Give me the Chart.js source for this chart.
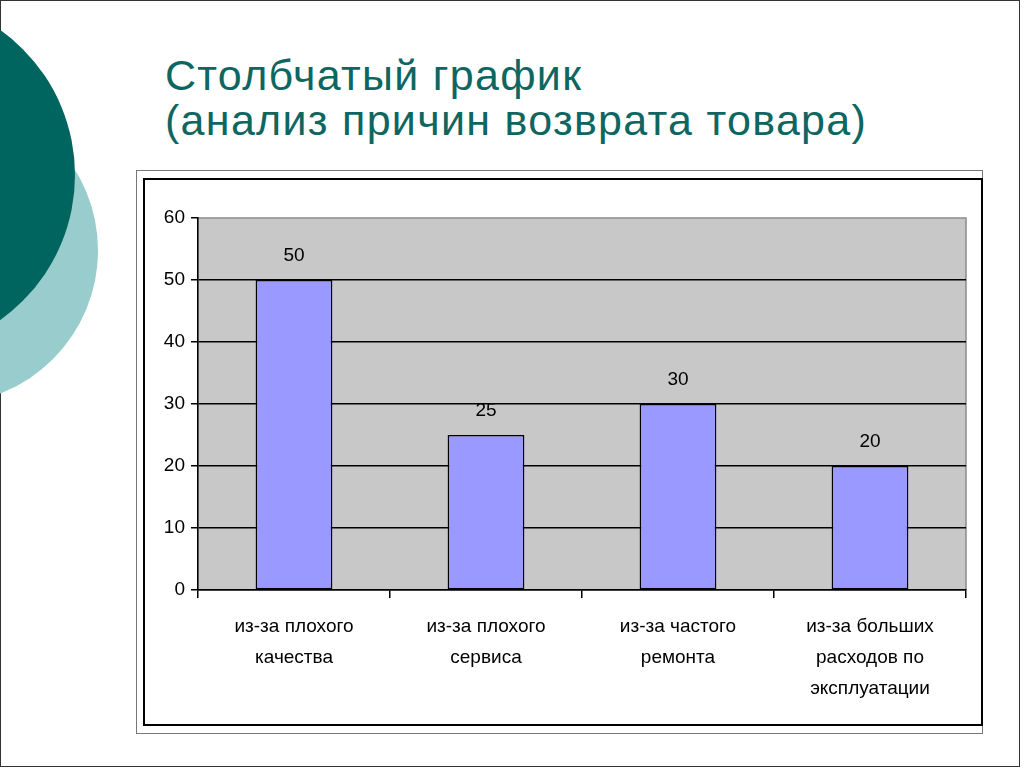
<!DOCTYPE html>
<html>
<head>
<meta charset="utf-8">
<script src="https://cdn.jsdelivr.net/npm/chart.js@4/dist/chart.umd.min.js"></script>
<style>
  body { margin: 0; background: #fff; }
  #slide { position: relative; width: 1024px; height: 768px; overflow: hidden; background: #fff; }
  .edge { position: absolute; left: 0; top: 0; width: 1018px; height: 765px; border: 1px solid #333; }
  .circle { position: absolute; border-radius: 50%; }
  #light { left: -209px; top: 97px; width: 307px; height: 307px; background: #99cccc; }
  #dark { left: -281px; top: -3px; width: 356px; height: 356px; background: #00645f; }
  #title { position: absolute; left: 165px; top: 53px; font: 43px "Liberation Sans", Arial, sans-serif;
           letter-spacing: 1.3px; line-height: 45px; color: #0e6661; white-space: nowrap; }
  #outer { position: absolute; left: 136px; top: 170px; width: 845px; height: 562px; border: 1px solid #777; }
  #inner { position: absolute; left: 143px; top: 178px; width: 836px; height: 544px; border: 2px solid #000; }
  #chart { position: absolute; left: 0; top: 0; }
</style>
</head>
<body>
<div id="slide">
  <div class="edge"></div>
  <div class="circle" id="light"></div>
  <div class="circle" id="dark"></div>
  <div id="title">Столбчатый график<br>(анализ причин возврата товара)</div>
  <div id="outer"></div>
  <div id="inner"></div>
  <canvas id="chart" width="1024" height="768"></canvas>
</div>
<script>
const reasons = [
  ["из-за плохого", "качества"],
  ["из-за плохого", "сервиса"],
  ["из-за частого", "ремонта"],
  ["из-за больших", "расходов по", "эксплуатации"]
];
const returnCounts = [50, 25, 30, 20];
const yTicks = [0, 10, 20, 30, 40, 50, 60];

const fontFamily = '"Liberation Sans", Arial, sans-serif';

// серый фон области построения и её рамка
const plotBackground = {
  id: "plotBackground",
  beforeDraw(chart) {
    const { ctx, chartArea: a } = chart;
    ctx.save();
    ctx.fillStyle = "#c8c8c8";
    ctx.fillRect(a.left, a.top, a.right - a.left, a.bottom - a.top);
    ctx.strokeStyle = "#8c8c8c";
    ctx.lineWidth = 1.5;
    ctx.beginPath();
    ctx.moveTo(a.left, a.top);
    ctx.lineTo(a.right, a.top);
    ctx.lineTo(a.right, a.bottom);
    ctx.stroke();
    ctx.restore();
  }
};

// подписи значений над столбцами
const valueLabels = {
  id: "valueLabels",
  afterDatasetsDraw(chart) {
    const ctx = chart.ctx;
    const meta = chart.getDatasetMeta(0);
    ctx.save();
    ctx.font = "19px " + fontFamily;
    ctx.fillStyle = "#000";
    ctx.textAlign = "center";
    ctx.textBaseline = "middle";
    meta.data.forEach((bar, i) => {
      ctx.fillText(String(returnCounts[i]), bar.x, bar.y - 24);
    });
    ctx.restore();
  }
};

new Chart(document.getElementById("chart"), {
  type: "bar",
  data: {
    labels: reasons,
    datasets: [{
      data: returnCounts,
      backgroundColor: "#9999ff",
      borderColor: "#000",
      borderWidth: 1.6,
      borderSkipped: false,
      categoryPercentage: 1,
      barPercentage: 0.4
    }]
  },
  options: {
    responsive: false,
    animation: false,
    layout: { padding: { left: 138, top: 218, right: 58, bottom: 58 } },
    plugins: {
      legend: { display: false },
      tooltip: { enabled: false }
    },
    scales: {
      x: {
        afterFit: (s) => { s.height = 120; },
        grid: {
          offset: true,
          drawOnChartArea: false,
          color: "#000",
          lineWidth: 1.5,
          tickLength: 8
        },
        border: { display: true, color: "#000", width: 1.6 },
        ticks: {
          color: "#000",
          padding: 13,
          font: { family: fontFamily, size: 19, lineHeight: 1.63 }
        }
      },
      y: {
        min: 0,
        max: 60,
        afterFit: (s) => { s.width = 60; },
        afterBuildTicks: (s) => { s.ticks = yTicks.map((v) => ({ value: v })); },
        grid: {
          color: (c) => (c.tick && c.tick.value === 60 ? "rgba(0,0,0,0)" : "#000"),
          tickColor: "#000",
          lineWidth: 1.5,
          tickLength: 7
        },
        border: { display: true, color: "#000", width: 1.6 },
        ticks: {
          color: "#000",
          padding: 6,
          font: { family: fontFamily, size: 19 }
        }
      }
    }
  },
  plugins: [plotBackground, valueLabels]
});
</script>
</body>
</html>
